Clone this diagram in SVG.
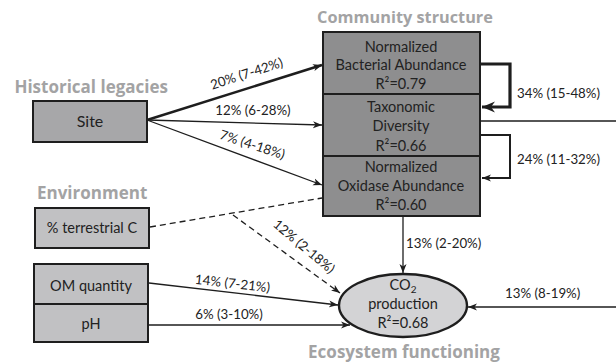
<svg xmlns="http://www.w3.org/2000/svg" width="616" height="364" viewBox="0 0 616 364">
<defs>
<style>
.title{font-family:"Open Sans","Liberation Sans",sans-serif;font-weight:bold;font-size:17px;fill:#a3a3a4}
.t{font-family:"Lato","Liberation Sans",sans-serif;font-size:14.5px;fill:#222;text-anchor:middle}
.lab{font-family:"Lato","Liberation Sans",sans-serif;font-size:13.3px;fill:#222}
.box{stroke:#1e1e1e;stroke-width:2}
.dark{fill:#8e8e8f}
.mid{fill:#a7a7a9}
.light{fill:#c1c1c3}
.ln{fill:none;stroke:#1e1e1e;stroke-width:1.3}
.dash{stroke-dasharray:6 4}
</style>
<marker id="ah" markerUnits="userSpaceOnUse" markerWidth="10" markerHeight="8" refX="9" refY="4" orient="auto">
<path d="M0,0.5 L9,4 L0,7.5 L2.5,4 z" fill="#1e1e1e"/>
</marker>
<marker id="ahb" markerUnits="userSpaceOnUse" markerWidth="14" markerHeight="12" refX="13" refY="6" orient="auto">
<path d="M0,0.5 L13,6 L0,11.5 L4,6 z" fill="#1e1e1e"/>
</marker>
</defs>
<text class="title" x="168" y="93" text-anchor="end">Historical legacies</text>
<text class="title" x="405" y="23" text-anchor="middle" style="font-size:16.3px">Community structure</text>
<text class="title" x="37" y="199">Environment</text>
<text class="title" x="404" y="358" text-anchor="middle">Ecosystem functioning</text>
<g id="connectors">
<path class="ln" d="M147,120 L322,65" style="stroke-width:2.6" marker-end="url(#ah)"/>
<path class="ln" d="M147,120 L322,125" marker-end="url(#ah)"/>
<path class="ln" d="M147,120 L322,185" marker-end="url(#ah)"/>
<path class="ln" d="M481,64 L510,64 L510,107 L482,107" style="stroke-width:3.2" marker-end="url(#ahb)"/>
<path class="ln" d="M481,135 L510,135 L510,178 L482,178" style="stroke-width:2" marker-end="url(#ah)"/>
<path class="ln" d="M481,121 L616,121"/>
<path class="ln" d="M616,307 L468,307" marker-end="url(#ah)"/>
<path class="ln" d="M403,217 L403,273" marker-end="url(#ah)"/>
<path class="ln dash" d="M150,227 L322,198"/>
<path class="ln dash" d="M233,215 L340,293" marker-end="url(#ah)"/>
<path class="ln" d="M149,283 L338,305" marker-end="url(#ah)"/>
<path class="ln" d="M149,325 L350,325" marker-end="url(#ah)"/>
<text class="lab" transform="translate(248,78) rotate(-18)" text-anchor="middle">20% (7-42%)</text>
<text class="lab" x="253" y="115" text-anchor="middle">12% (6-28%)</text>
<text class="lab" transform="translate(251,149) rotate(18)" text-anchor="middle">7% (4-18%)</text>
<text class="lab" x="517" y="98">34% (15-48%)</text>
<text class="lab" x="517" y="164">24% (11-32%)</text>
<text class="lab" transform="translate(301,250) rotate(40)" text-anchor="middle">12% (2-18%)</text>
<text class="lab" x="406" y="248">13% (2-20%)</text>
<text class="lab" x="505" y="298">13% (8-19%)</text>
<text class="lab" transform="translate(232,288) rotate(6.5)" text-anchor="middle">14% (7-21%)</text>
<text class="lab" x="229" y="319" text-anchor="middle">6% (3-10%)</text>
</g>
<g id="site">
<rect class="box mid" x="33" y="101" width="114" height="41"/>
<text class="t" x="90" y="127" style="font-size:16px">Site</text>
</g>
<g id="terrestrial">
<rect class="box light" x="35" y="208" width="114" height="40"/>
<text class="t" x="92" y="233">% terrestrial C</text>
</g>
<g id="om">
<rect class="box light" x="34" y="264" width="114" height="40"/>
<text class="t" x="91" y="291">OM quantity</text>
</g>
<g id="ph">
<rect class="box light" x="34" y="304" width="114" height="38"/>
<text class="t" x="91" y="329">pH</text>
</g>
<g id="bacterial">
<rect class="box dark" x="323" y="32" width="157" height="62"/>
<text class="t" x="401" y="52">Normalized</text>
<text class="t" x="401" y="70">Bacterial Abundance</text>
<text class="t" x="401" y="89">R²=0.79</text>
</g>
<g id="taxonomic">
<rect class="box dark" x="323" y="94" width="157" height="62"/>
<text class="t" x="401" y="112">Taxonomic</text>
<text class="t" x="401" y="131">Diversity</text>
<text class="t" x="401" y="151">R²=0.66</text>
</g>
<g id="oxidase">
<rect class="box dark" x="323" y="156" width="157" height="60"/>
<text class="t" x="401" y="172">Normalized</text>
<text class="t" x="401" y="191">Oxidase Abundance</text>
<text class="t" x="401" y="210">R²=0.60</text>
</g>
<g id="co2">
<ellipse cx="403" cy="305.5" rx="64" ry="31.5" fill="#d3d3d5" stroke="#1e1e1e" stroke-width="2.4"/>
<text class="t" x="403" y="290">CO<tspan font-size="10" dy="3">2</tspan></text>
<text class="t" x="403" y="309">production</text>
<text class="t" x="403" y="328">R²=0.68</text>
</g>
</svg>
